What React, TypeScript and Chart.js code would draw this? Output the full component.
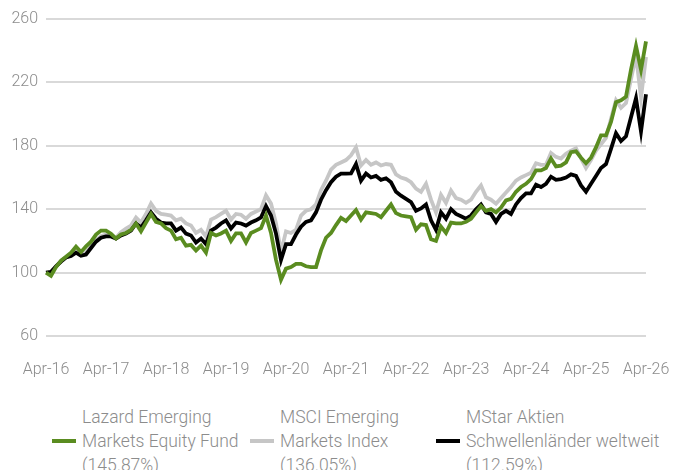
import React, { useEffect, useRef } from "react";
import { Chart, registerables } from "chart.js";

Chart.register(...registerables);

const tickLabels = ["Apr-16", "Apr-17", "Apr-18", "Apr-19", "Apr-20", "Apr-21", "Apr-22", "Apr-23", "Apr-24", "Apr-25", "Apr-26"];
const monthNames = ["Apr", "May", "Jun", "Jul", "Aug", "Sep", "Oct", "Nov", "Dec", "Jan", "Feb", "Mar"];

const lazard = [
  100, 98, 103.5, 107.5, 110, 112.6, 116.4, 113, 116.5, 119.5, 124, 126.5,
  126.5, 124.5, 121.5, 124, 125, 127, 131, 126, 131.5, 137, 132, 131,
  128, 126.5, 121, 122, 117, 117.5, 114, 117, 112.6, 125, 123.4, 124.7,
  126.5, 120, 124.7, 124.7, 119, 125, 126.5, 128, 136, 125, 108, 95.5,
  102.5, 103.5, 105.5, 105.5, 104, 103.5, 103.5, 114, 122, 125, 130, 134.5,
  132.5, 136, 139.5, 133.5, 138, 137.5, 137, 135, 139, 143, 137.5, 136,
  135.5, 135, 127, 130.5, 130, 121, 120, 129, 125, 131.5, 131, 131,
  132, 134, 138, 142, 139, 140, 138, 141, 145.5, 146.5, 151, 154,
  156, 159, 164.5, 164.5, 166, 172, 167, 167.5, 169.5, 176, 176.5, 172.5,
  169, 172.5, 179, 186.6, 186.6, 195, 207.5, 208.7, 211, 228, 243, 228,
  245.87,
];

const msci = [
  100, 100, 104, 107, 109.5, 111, 113, 111.5, 112.5, 116.5, 120.5, 123,
  124, 123.5, 122, 125.5, 127.8, 129.7, 134.8, 131.6, 137, 143.6, 139, 137,
  136.5, 136, 133, 134, 131, 129.7, 125, 127, 122.8, 133.5, 135, 137,
  139, 133.5, 137, 136.5, 134, 137, 138.5, 140, 148.7, 143.6, 131, 113,
  126, 125, 127, 136, 139, 140, 143, 152, 158, 165, 168, 169.5,
  171, 174, 179, 167.6, 171, 168, 169.5, 167.6, 168.5, 168, 162, 160,
  159, 157, 153, 151, 156, 146, 138, 149, 144, 151.8, 147, 146,
  144, 146, 151, 155, 147.5, 146, 143.5, 147, 150.5, 154, 158, 160,
  161.5, 163, 169, 168, 168, 175.5, 173, 172, 175, 177, 178.4, 172,
  166, 171, 177, 181, 185, 197, 208.7, 204, 207, 222, 237, 210.6,
  236.05,
];

const mstar = [
  100, 100.5, 104, 107, 109.5, 110.5, 112.6, 110.7, 111.4, 115.5, 119.5, 122,
  122.8, 122.8, 121.5, 123.5, 124.7, 126.5, 131, 128.4, 133, 138, 134, 131.6,
  131, 131, 126.5, 128.4, 124.6, 123.4, 119, 121.5, 118, 126.5, 128.4, 131,
  133, 127.8, 131.6, 131, 129.7, 131.6, 133, 134.8, 142, 136, 124.6, 108,
  118, 118, 124, 129, 132, 133, 138, 146, 152, 157, 160.5, 162.5,
  162.5, 162.6, 168.5, 158, 162.5, 160, 161, 158.5, 159.5, 157, 151, 148.5,
  146.5, 144.5, 139, 140.5, 143, 133, 127, 138, 134, 140, 137, 135.5,
  134, 136, 140, 143, 138, 137, 132, 137, 139, 137, 143, 147,
  150, 150, 155.5, 154, 156, 160.5, 158.5, 159, 160, 162, 161, 155,
  151, 156, 161, 166, 168.5, 178, 188, 183, 186, 198, 210, 189,
  212.59,
];

const seriesNames = [
  ["Lazard Emerging", "Markets Equity Fund", "(145.87%)"],
  ["MSCI Emerging", "Markets Index", "(136.05%)"],
  ["MStar Aktien", "Schwellenländer weltweit", "(112.59%)"],
];
const seriesColors = ["#5a8c20", "#c6c6c6", "#000000"];

const categories: string[] = [];
for (let i = 0; i <= 120; i++) {
  const yr = 16 + Math.floor((i + 3) / 12);
  categories.push(`${monthNames[i % 12]}-${yr}`);
}

const FONT = "Roboto, 'Liberation Sans', Arial, sans-serif";
const TEXT = "#8c8c8c";

export default function App() {
  const ref = useRef<HTMLCanvasElement | null>(null);

  useEffect(() => {
    document.body.style.margin = "0";
    const ctx = ref.current!;
    const chart = new Chart(ctx, {
      type: "line",
      data: {
        labels: categories,
        datasets: [
          { label: seriesNames[0].join(" "), data: lazard, borderColor: seriesColors[0], backgroundColor: seriesColors[0], borderWidth: 3.8, pointRadius: 0, tension: 0, order: 0 },
          { label: seriesNames[1].join(" "), data: msci, borderColor: seriesColors[1], backgroundColor: seriesColors[1], borderWidth: 3.8, pointRadius: 0, tension: 0, order: 2 },
          { label: seriesNames[2].join(" "), data: mstar, borderColor: seriesColors[2], backgroundColor: seriesColors[2], borderWidth: 3.8, pointRadius: 0, tension: 0, order: 1 },
        ],
      },
      options: {
        animation: false,
        responsive: false,
        maintainAspectRatio: false,
        layout: { padding: { left: 10, right: 27, top: 19, bottom: 4 } },
        plugins: { legend: { display: false }, tooltip: { enabled: false } },
        scales: {
          x: {
            offset: false,
            grid: { display: false },
            border: { display: false },
            afterFit: (s: any) => {
              s.paddingLeft = 0;
              s.paddingRight = 0;
              s.height = 60;
            },
            ticks: {
              autoSkip: false,
              maxRotation: 0,
              padding: 16,
              color: TEXT,
              font: { family: FONT, size: 16, weight: "300" as any },
              callback: (_v: any, i: number) => (i % 12 === 0 ? tickLabels[i / 12] : null),
            },
          },
          y: {
            min: 60,
            max: 260,
            grid: { color: "#d9d9d9", lineWidth: 2, drawTicks: false },
            border: { display: false },
            afterFit: (s: any) => {
              s.width = 36;
            },
            ticks: {
              stepSize: 40,
              padding: 8,
              color: TEXT,
              font: { family: FONT, size: 16, weight: "300" as any },
            },
          },
        },
      },
    });
    return () => chart.destroy();
  }, []);

  const lefts = [52, 250, 436];
  return (
    <div style={{ position: "relative", width: 673, height: 470, overflow: "hidden", fontFamily: FONT }}>
      <canvas ref={ref} width={673} height={400} style={{ display: "block" }} />
      {seriesNames.map((lines, k) => (
        <div key={k} style={{ position: "absolute", left: lefts[k], top: 405, display: "flex", alignItems: "center" }}>
          <div style={{ width: 24, height: 4, background: seriesColors[k], marginRight: 6 }} />
          <div style={{ color: TEXT, fontSize: 17.5, fontWeight: 300, lineHeight: "24px", whiteSpace: "nowrap" }}>
            {lines.map((t, j) => (
              <div key={j}>{t}</div>
            ))}
          </div>
        </div>
      ))}
    </div>
  );
}
